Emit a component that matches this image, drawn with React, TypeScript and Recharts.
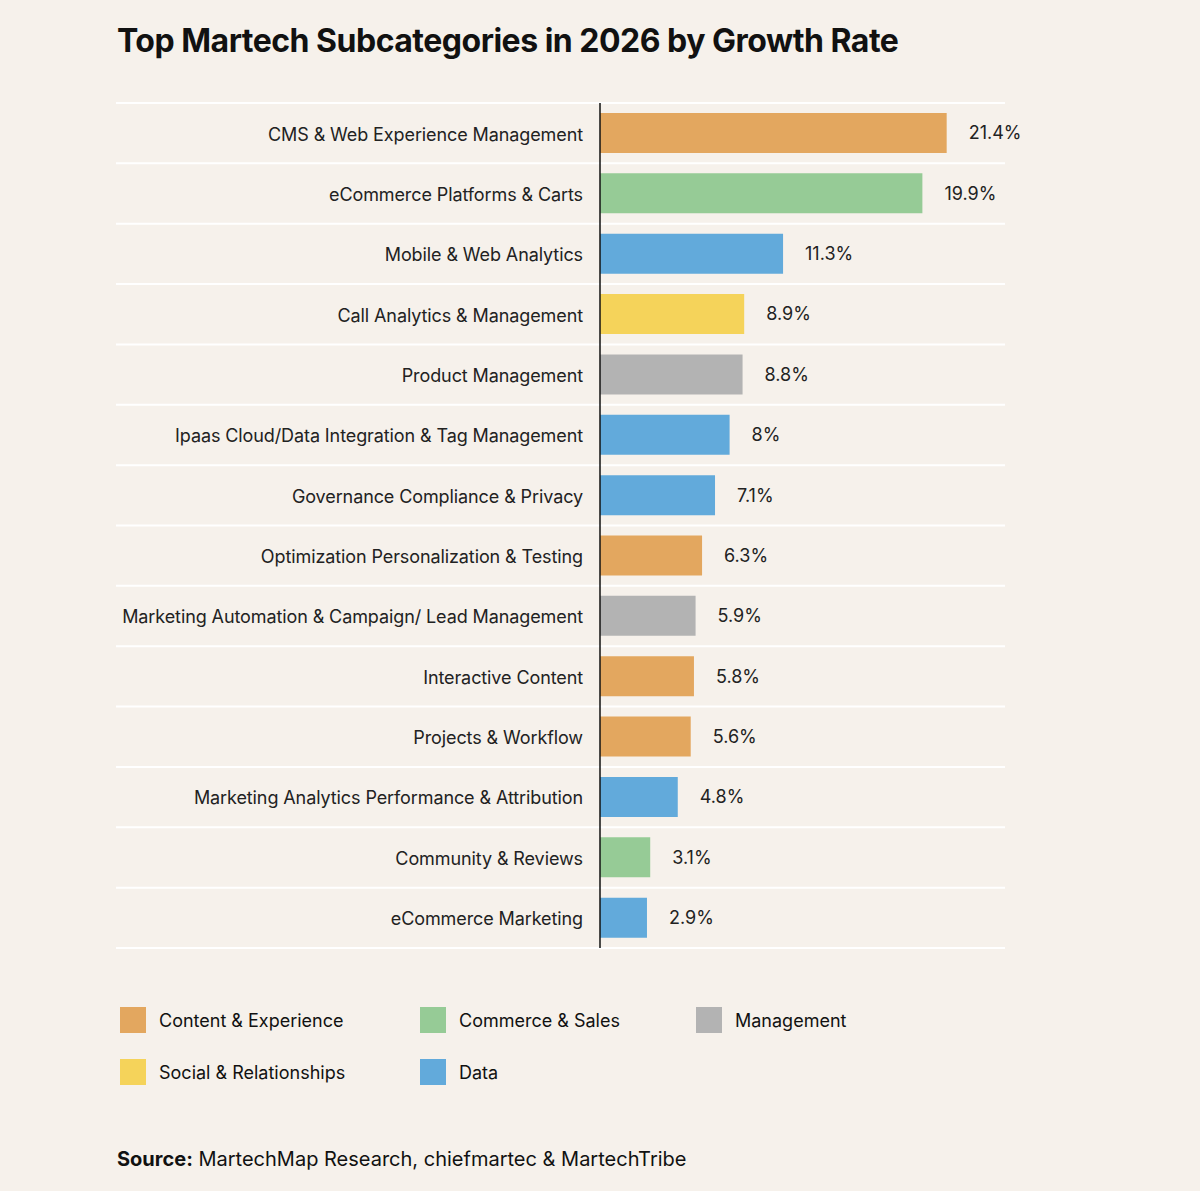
import { BarChart, Bar, XAxis, YAxis, CartesianGrid, Cell, LabelList } from "recharts";

const subcategories = [
  "CMS & Web Experience Management",
  "eCommerce Platforms & Carts",
  "Mobile & Web Analytics",
  "Call Analytics & Management",
  "Product Management",
  "Ipaas Cloud/Data Integration & Tag Management",
  "Governance Compliance & Privacy",
  "Optimization Personalization & Testing",
  "Marketing Automation & Campaign/ Lead Management",
  "Interactive Content",
  "Projects & Workflow",
  "Marketing Analytics Performance & Attribution",
  "Community & Reviews",
  "eCommerce Marketing",
];

const growth = [21.4, 19.9, 11.3, 8.9, 8.8, 8, 7.1, 6.3, 5.9, 5.8, 5.6, 4.8, 3.1, 2.9];

const groupOf = [
  "Content & Experience",
  "Commerce & Sales",
  "Data",
  "Social & Relationships",
  "Management",
  "Data",
  "Data",
  "Content & Experience",
  "Management",
  "Content & Experience",
  "Content & Experience",
  "Data",
  "Commerce & Sales",
  "Data",
];

const groups = ["Content & Experience", "Commerce & Sales", "Management", "Social & Relationships", "Data"];
const groupColors: Record<string, string> = {
  "Content & Experience": "#E3A75F",
  "Commerce & Sales": "#96CB96",
  Management: "#B3B3B3",
  "Social & Relationships": "#F5D35A",
  Data: "#62AADB",
};

const data = subcategories.map((name, i) => ({ name, value: growth[i], group: groupOf[i] }));

const font = "Inter, 'Noto Sans', sans-serif";
const bg = "#F6F1EB";

// legend grid positions (3 columns, 2 rows)
const legendCols = [120, 420, 696];
const legendRows = [1007, 1059];

const App = () => {
  const n = data.length;
  return (
    <div
      style={{
        position: "absolute",
        left: 0,
        top: 0,
        width: 1200,
        height: 1191,
        background: bg,
        fontFamily: font,
        color: "#111",
      }}
    >
      <div
        style={{
          position: "absolute",
          left: 117,
          top: 21,
          fontSize: 32,
          fontWeight: 700,
          letterSpacing: -0.5,
        }}
      >
        Top Martech Subcategories in 2026 by Growth Rate
      </div>

      <div style={{ position: "absolute", left: 0, top: 0 }}>
        <BarChart
          width={1200}
          height={960}
          data={data}
          layout="vertical"
          margin={{ top: 103, right: 195, bottom: 12, left: 0 }}
          barCategoryGap={0}
        >
          <CartesianGrid
            vertical={false}
            stroke="#FFFFFF"
            strokeWidth={2}
            x={116}
            width={889}
            horizontalCoordinatesGenerator={({ offset }: any) =>
              Array.from({ length: n + 1 }, (_, i) => offset.top + (i * offset.height) / n)
            }
          />
          <XAxis type="number" domain={[0, 25]} hide />
          <YAxis
            type="category"
            dataKey="name"
            width={600}
            tickLine={false}
            tickSize={0}
            tickMargin={17}
            axisLine={{ stroke: "#111", strokeWidth: 1.5 }}
            tick={{ fontSize: 18, fill: "#222", fontFamily: font, dy: 1, letterSpacing: -0.1 }}
            interval={0}
          />
          <Bar dataKey="value" barSize={40} isAnimationActive={false}>
            {data.map((d, i) => (
              <Cell key={i} fill={groupColors[d.group]} />
            ))}
            <LabelList
              dataKey="value"
              position="right"
              offset={22}
              formatter={(v: any) => `${v}%`}
              style={{ fontSize: 18, fill: "#222", fontFamily: font }}
            />
          </Bar>
        </BarChart>
      </div>

      {groups.map((g, i) => (
        <div
          key={g}
          style={{
            position: "absolute",
            left: legendCols[i % 3],
            top: legendRows[Math.floor(i / 3)],
            display: "flex",
            alignItems: "center",
            fontSize: 18,
            color: "#111",
          }}
        >
          <div style={{ width: 26, height: 26, background: groupColors[g], marginRight: 13 }} />
          <span>{g}</span>
        </div>
      ))}

      <div style={{ position: "absolute", left: 117, top: 1147, fontSize: 20, color: "#111" }}>
        <b>Source:</b> MartechMap Research, chiefmartec &amp; MartechTribe
      </div>
    </div>
  );
};

export default App;
